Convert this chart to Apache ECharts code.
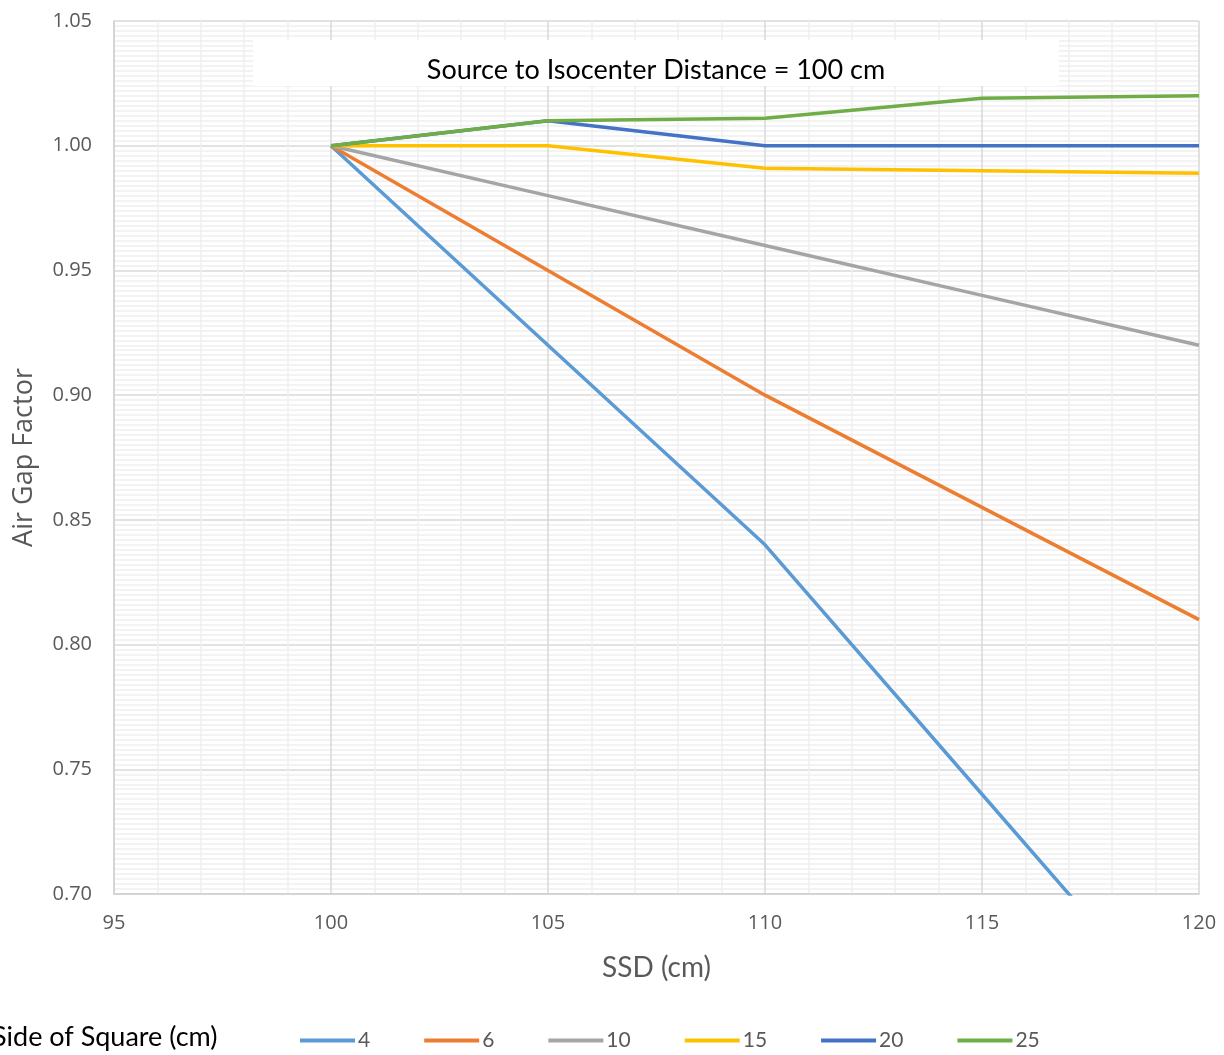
<!DOCTYPE html>
<html>
<head>
<meta charset="utf-8">
<script src="https://cdn.jsdelivr.net/npm/echarts@6/dist/echarts.min.js"></script>
<style>html,body{margin:0;padding:0;background:#fff;}#c{width:1224px;height:1055px;}</style>
</head>
<body>
<div id="c"></div>
<script>
const ssd = [100, 105, 110, 115, 120];
const seriesNames = ['4', '6', '10', '15', '20', '25'];
const s4  = [1.00, 0.92, 0.84, 0.74, 0.64];
const s6  = [1.00, 0.95, 0.90, 0.855, 0.81];
const s10 = [1.00, 0.98, 0.96, 0.94, 0.92];
const s15 = [1.00, 1.00, 0.991, 0.990, 0.989];
const s20 = [1.00, 1.01, 1.00, 1.00, 1.00];
const s25 = [1.00, 1.01, 1.011, 1.019, 1.02];
const colors = ['#5B9BD5', '#ED7D31', '#A5A5A5', '#FFC000', '#4472C4', '#70AD47'];
const allData = [s4, s6, s10, s15, s20, s25];

const chart = echarts.init(document.getElementById('c'));
const series = seriesNames.map((n, i) => ({
  name: n,
  type: 'line',
  data: ssd.map((x, j) => [x, allData[i][j]]),
  showSymbol: false,
  symbol: 'none',
  lineStyle: { width: 3.5, color: colors[i] },
  itemStyle: { color: colors[i] },
  clip: true,
  z: 3
}));

chart.setOption({
  animation: false,
  backgroundColor: '#fff',
  grid: { left: 114, right: 25, top: 21, bottom: 161, containLabel: false, outerBoundsMode: 'none' },
  xAxis: {
    type: 'value', min: 95, max: 120, interval: 5,
    name: 'SSD (cm)', nameLocation: 'middle', nameGap: 60,
    nameTextStyle: { fontFamily: 'Lato', fontSize: 28, color: '#595959' },
    axisLine: { show: true, lineStyle: { color: '#d0d0d0', width: 1.5 } },
    axisTick: { show: false },
    axisLabel: { fontFamily: 'Open Sans', fontSize: 20, color: '#595959', margin: 19 },
    splitLine: { show: true, lineStyle: { color: '#d9d9d9', width: 1.5 } },
    minorTick: { show: false, splitNumber: 5 },
    minorSplitLine: { show: true, lineStyle: { color: '#efefef', width: 1.5 } }
  },
  yAxis: {
    type: 'value', min: 0.70, max: 1.05, interval: 0.05,
    name: 'Air Gap Factor', nameLocation: 'middle', nameGap: 76,
    nameTextStyle: { fontFamily: 'Open Sans', fontSize: 27, color: '#595959' },
    axisLine: { show: true, lineStyle: { color: '#d0d0d0', width: 1.5 } },
    axisTick: { show: false },
    axisLabel: { fontFamily: 'Open Sans', fontSize: 20, color: '#595959', margin: 22,
      formatter: v => v.toFixed(2) },
    splitLine: { show: true, lineStyle: { color: '#d9d9d9', width: 1.5 } },
    minorTick: { show: false, splitNumber: 25 },
    minorSplitLine: { show: true, lineStyle: { color: '#efefef', width: 1.5 } }
  },
  legend: {
    data: seriesNames,
    left: 300, top: 1030, padding: 0,
    itemGap: 54, itemWidth: 55, itemHeight: 4,
    icon: 'rect',
    textStyle: { fontFamily: 'Lato', fontSize: 21, color: '#595959', padding: [0, 0, 0, -2] }
  },
  graphic: [
    { type: 'rect', shape: { x: 253, y: 40, width: 806, height: 46 },
      style: { fill: '#ffffff' }, z: 10 },
    { type: 'text', x: 656, y: 70, z: 11,
      style: { text: 'Source to Isocenter Distance = 100 cm', fontFamily: 'Lato', fontSize: 27,
        fill: '#000', textAlign: 'center', textVerticalAlign: 'middle' } },
    { type: 'text', x: -8, y: 1037, z: 11,
      style: { text: 'Side of Square (cm)', fontFamily: 'Lato', fontSize: 27,
        fill: '#000', textAlign: 'left', textVerticalAlign: 'middle' } }
  ],
  series: series
});
</script>
</body>
</html>
